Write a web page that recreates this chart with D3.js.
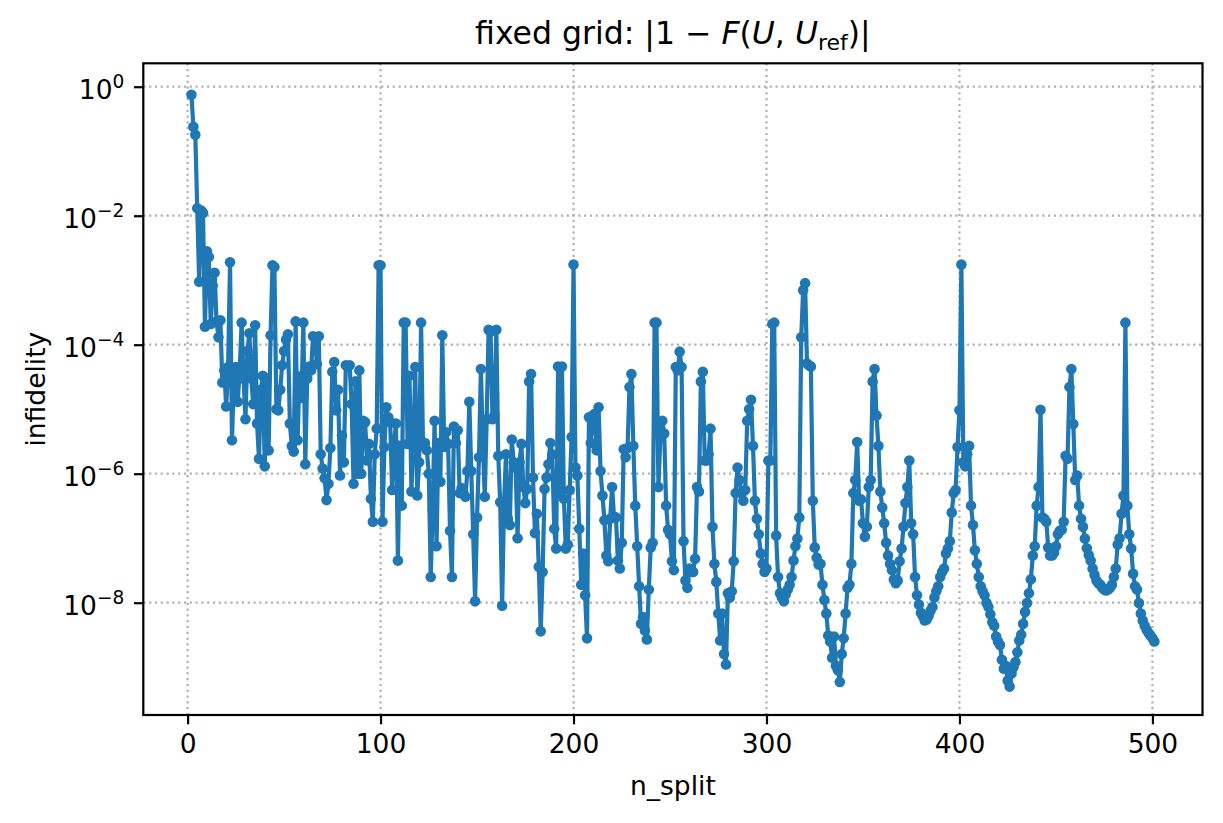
<!DOCTYPE html>
<html>
<head>
<meta charset="utf-8">
<script src="https://cdnjs.cloudflare.com/ajax/libs/d3/7.8.5/d3.min.js"></script>
<style>
  body { margin: 0; background: #fff; }
  svg { display: block; }
  text { font-family: "DejaVu Sans", sans-serif; }
</style>
</head>
<body>
<svg id="chart" width="1223" height="823"></svg>
<script>
// infidelity |1 - F(U, U_ref)| for n_split = 2, 3, 4, ...
const infidelity = [
  // 2 - 25
  7.5e-1, 2.4e-1, 1.8e-1, 1.3e-2, 9.5e-4, 1.2e-2, 1.1e-2, 1.9e-4, 2.8e-3, 2.3e-3,
  2.1e-4, 8.3e-4, 1.3e-3, 2.3e-4, 1.3e-4, 2.4e-4, 2.6e-5, 4e-5, 1.1e-5, 4.5e-5,
  1.9e-3, 3.3e-6, 3e-5, 4.5e-5,
  // 26 - 46
  1.3e-5, 4e-5, 2.2e-4, 3e-5, 7e-6, 8e-5, 1.5e-4, 3e-5, 1.2e-5, 2e-4,
  6e-6, 1.7e-6, 2e-5, 3.3e-5, 1.3e-6, 3e-5, 2.3e-6, 1.4e-4, 1.7e-3, 1.6e-3,
  1e-5,
  // 47 - 91
  9.6e-6, 2e-5, 4.8e-5, 8e-5, 1.2e-4, 1.45e-4, 6e-6, 2.7e-6, 2.2e-6, 2.3e-4,
  3.3e-6, 3.2e-5, 1.5e-5, 2.2e-4, 1.4e-6, 3e-5, 4.6e-5, 4e-5, 1.35e-4, 1.3e-4,
  5e-5, 1.35e-4, 2e-6, 1.2e-6, 8.5e-7, 3.9e-7, 7e-7, 2.5e-6, 3.8e-5, 5.4e-5,
  9.6e-6, 2e-5, 9.4e-7, 3.9e-6, 1.5e-6, 4.8e-5, 4.6e-5, 4.8e-5, 1.2e-5, 7e-7,
  2.7e-5, 1e-6, 4e-5, 1e-6, 6.6e-6,
  // 92 - 101
  6.3e-6, 1.6e-6, 2.9e-6, 4.1e-7, 1.8e-7, 2e-6, 5e-6, 1.7e-3, 1.7e-3, 1.8e-7,
  // 102 - 163
  2.6e-6, 1.07e-5, 7.5e-6, 6.3e-6, 5.6e-7, 3e-6, 6e-6, 4.5e-8, 2.7e-6, 3.2e-7,
  2.2e-4, 2.2e-4, 2.9e-6, 3.3e-5, 5.3e-7, 3e-6, 4.5e-5, 4.6e-7, 1.5e-6, 2.2e-4,
  2.7e-6, 3e-6, 2.3e-6, 1e-6, 2.5e-8, 2.8e-7, 6.6e-6, 7.5e-8, 3e-6, 7.5e-7,
  1.4e-4, 2.6e-6, 4.4e-6, 2.9e-6, 1.3e-7, 2.5e-8, 5.4e-6, 3e-6, 4.7e-6, 5e-7,
  6e-7, 5e-7, 4.4e-7, 1.1e-6, 1.3e-5, 1.1e-6, 1.15e-7, 1.05e-8, 2.1e-7, 1.8e-6,
  4.2e-5, 3e-6, 4.4e-7, 7e-6, 1.7e-4, 1.6e-4, 7e-6, 8e-6, 1.7e-4, 1.9e-6,
  3.6e-7, 9e-9,
  // 164 - 231
  3.5e-7, 2e-6, 2e-7, 1.6e-7, 3.4e-6, 1.5e-6, 1.25e-6, 1e-7, 1.5e-6, 2.9e-6,
  6.2e-7, 3.5e-7, 5.8e-7, 2.7e-5, 3.5e-5, 8.7e-7, 1.2e-7, 2.4e-7, 3.6e-8, 3.6e-9,
  3e-8, 5.8e-7, 8.7e-7, 1.4e-6, 3e-6, 2e-6, 1.4e-7, 6.9e-8, 4.6e-5, 5e-7,
  4.6e-5, 4.1e-7, 6.9e-8, 8e-8, 5.6e-7, 3.7e-6, 1.75e-3, 1.25e-6, 9.4e-7, 1.4e-7,
  1.9e-8, 5.8e-8, 1.3e-8, 2.8e-9, 7.5e-6, 3e-6, 8e-6, 8.5e-6, 2.3e-6, 1.07e-5,
  1.1e-6, 4.6e-7, 1.9e-7, 5.4e-8, 4.4e-8, 2e-7, 6.2e-7, 2.1e-7, 2.1e-7, 4.5e-8,
  3.4e-8, 8.5e-8, 2.4e-6, 1.8e-6, 2.5e-6, 2.2e-5, 3.5e-5, 2.7e-6,
  // 232 - 301
  3.2e-7, 7.5e-8, 1.8e-8, 4.7e-9, 6e-9, 3.7e-9, 2.7e-9, 1.6e-8, 7.2e-8, 8.5e-8,
  2.2e-4, 2.2e-4, 6.2e-7, 3.7e-6, 6.6e-6, 4.2e-6, 3.2e-7, 1.35e-7, 1.15e-7, 4.4e-8,
  3.2e-8, 4.5e-5, 4e-5, 7.8e-5, 4.5e-5, 9e-8, 2.2e-8, 1.7e-8, 3.4e-8, 3e-8,
  3e-8, 4.8e-8, 6.2e-7, 5.3e-7, 2.7e-5, 3.8e-5, 1.6e-6, 1.6e-6, 2e-6, 5e-6,
  1.5e-7, 4e-8, 2.1e-8, 6.8e-9, 2.6e-9, 6.8e-9, 1.6e-9, 1.1e-9, 1.4e-8, 1.2e-8,
  1.5e-8, 4.4e-8, 5e-7, 1.25e-6, 8e-7, 5e-7, 3.8e-7, 5.6e-7, 6.6e-6, 1e-5,
  1.4e-5, 2.7e-6, 3.8e-7, 2e-7, 1.15e-7, 5.8e-8, 4e-8, 3e-8, 3.4e-8, 1.6e-6,
  // 302 - 372
  1.6e-6, 2.1e-4, 2.2e-4, 1.1e-7, 2.5e-8, 1.4e-8, 1.2e-8, 1.05e-8, 1.35e-8, 1.6e-8,
  1.9e-8, 2.5e-8, 4.5e-8, 7.5e-8, 9.9e-8, 2.1e-7, 1.3e-4, 7e-4, 9e-4, 5.1e-5,
  4.8e-5, 4.6e-5, 3.8e-7, 7.2e-8, 5e-8, 3.9e-8, 4e-8, 1.9e-8, 1.1e-8, 6.8e-9,
  3.1e-9, 2.5e-9, 1.4e-9, 3e-9, 1.05e-9, 9e-10, 5.9e-10, 1.6e-9, 2.8e-9, 6.8e-9,
  1.7e-8, 1.9e-8, 4e-8, 5e-7, 8e-7, 3.1e-6, 3.8e-7, 4e-7, 1.7e-7, 1.05e-7,
  1.5e-7, 6.2e-7, 8e-7, 2.7e-5, 4.2e-5, 8e-6, 2.7e-6, 5.3e-7, 3e-7, 1.7e-7,
  8.5e-8, 5.4e-8, 4e-8, 3.2e-8, 2.3e-8, 2e-8, 2.2e-8, 4.4e-8, 6.9e-8, 1.5e-7,
  3.5e-7,
  // 373 - 441
  6.2e-7, 1.6e-6, 1.7e-7, 1.15e-7, 2.5e-8, 1.3e-8, 9.4e-9, 7e-9, 6.2e-9, 5.3e-9,
  5.5e-9, 6.2e-9, 7.5e-9, 8.6e-9, 1.2e-8, 1.5e-8, 1.8e-8, 2.5e-8, 3e-8, 3.4e-8,
  5.8e-8, 6.9e-8, 9e-8, 2.5e-7, 5e-7, 5.6e-7, 2.6e-6, 9.6e-6, 1.75e-3, 1.5e-6,
  1.3e-6, 2e-6, 2.7e-6, 3.2e-7, 1.6e-7, 6.5e-8, 4e-8, 2.5e-8, 1.8e-8, 1.5e-8,
  1.3e-8, 1e-8, 8.6e-9, 6.6e-9, 5e-9, 4.4e-9, 3e-9, 2.5e-9, 2.2e-9, 1.3e-9,
  9.5e-10, 1.05e-9, 6.2e-10, 5e-10, 8e-10, 1e-9, 1.2e-9, 1.7e-9, 2.6e-9, 3.2e-9,
  4.7e-9, 7.2e-9, 9.9e-9, 1.4e-8, 2.3e-8, 5.4e-8, 7.5e-8, 3.2e-7, 6.2e-7,
  // 442 - 501
  9.8e-6, 2.1e-7, 2e-7, 1.8e-7, 7.2e-8, 5.4e-8, 5.4e-8, 6e-8, 7.5e-8, 1.15e-7,
  1.3e-7, 1.35e-7, 1.8e-7, 1.9e-6, 1.7e-6, 2.2e-5, 4.2e-5, 5.9e-6, 8e-7, 9.4e-7,
  3.2e-7, 2e-7, 1.5e-7, 9.9e-8, 7e-8, 5.5e-8, 4.5e-8, 3.4e-8, 2.7e-8, 2.2e-8,
  2e-8, 1.9e-8, 1.7e-8, 1.6e-8, 1.55e-8, 1.6e-8, 1.7e-8, 1.9e-8, 2.5e-8, 3.4e-8,
  8e-8, 1e-7, 2.4e-7, 4.6e-7, 2.2e-4, 3.2e-7, 1.15e-7, 6.9e-8, 2.8e-8, 1.8e-8,
  1.6e-8, 9.9e-9, 6.8e-9, 5.3e-9, 4.4e-9, 3.8e-9, 3.4e-9, 3.1e-9, 2.8e-9, 2.5e-9
];
const nSplit = d3.range(2, 2 + infidelity.length);

const xTicks = [0, 100, 200, 300, 400, 500];
const yTickExponents = [0, -2, -4, -6, -8];

const svg = d3.select("#chart");
const plot = { left: 143.3, right: 1202.5, top: 63.3, bottom: 715 };
const blue = "#1f77b4";
const fontSize = 26.5;

const x = d3.scaleLinear()
    .domain([-22.95, 525.95])
    .range([plot.left, plot.right]);

const y = d3.scaleLog()
    .domain([Math.pow(10, -9.741), Math.pow(10, 0.363)])
    .range([plot.bottom, plot.top]);

const points = nSplit.map((n, i) => ({ n: n, v: infidelity[i] }));

// Grid
const grid = svg.append("g");
grid.selectAll(".gx")
    .data(xTicks)
    .enter()
    .append("line")
    .attr("x1", d => x(d)).attr("x2", d => x(d))
    .attr("y1", plot.top).attr("y2", plot.bottom);
grid.selectAll(".gy")
    .data(yTickExponents)
    .enter()
    .append("line")
    .attr("x1", plot.left).attr("x2", plot.right)
    .attr("y1", d => y(Math.pow(10, d))).attr("y2", d => y(Math.pow(10, d)));
grid.selectAll("line")
    .attr("stroke", "#b0b0b0")
    .attr("stroke-width", 2.2)
    .attr("stroke-dasharray", "2.2,3.6");

// Data line + markers
const line = d3.line()
    .x(d => x(d.n))
    .y(d => y(d.v));

svg.append("path")
    .datum(points)
    .attr("d", line)
    .attr("fill", "none")
    .attr("stroke", blue)
    .attr("stroke-width", 4.2)
    .attr("stroke-linejoin", "round");

svg.append("g")
    .selectAll("circle")
    .data(points)
    .enter()
    .append("circle")
    .attr("cx", d => x(d.n))
    .attr("cy", d => y(d.v))
    .attr("r", 5.3)
    .attr("fill", blue);

// Frame
svg.append("rect")
    .attr("x", plot.left).attr("y", plot.top)
    .attr("width", plot.right - plot.left)
    .attr("height", plot.bottom - plot.top)
    .attr("fill", "none")
    .attr("stroke", "#000")
    .attr("stroke-width", 2.2);

// X axis
const xAxis = svg.append("g")
    .attr("transform", `translate(0,${plot.bottom})`)
    .call(d3.axisBottom(x).tickValues(xTicks).tickSize(9.3).tickPadding(9.5).tickFormat(d3.format("d")));
xAxis.select(".domain").remove();
xAxis.selectAll(".tick line").attr("stroke", "#000").attr("stroke-width", 2.2);
xAxis.selectAll(".tick text")
    .attr("fill", "#000")
    .style("font-size", fontSize + "px")
    .style("font-family", "'DejaVu Sans', sans-serif");

// Y axis with 10^k labels
const yAxis = svg.append("g")
    .attr("transform", `translate(${plot.left},0)`)
    .call(d3.axisLeft(y).tickValues(yTickExponents.map(e => Math.pow(10, e))).tickSize(9.3).tickFormat(""));
yAxis.select(".domain").remove();
yAxis.selectAll(".tick line").attr("stroke", "#000").attr("stroke-width", 2.2);
yAxis.selectAll(".tick").each(function(d) {
    const e = Math.round(Math.log10(d));
    const t = d3.select(this).append("text")
        .attr("x", -19)
        .attr("y", 11.6)
        .attr("text-anchor", "end")
        .attr("fill", "#000")
        .style("font-size", fontSize + "px")
        .style("font-family", "'DejaVu Sans', sans-serif");
    t.append("tspan").text("10");
    t.append("tspan")
        .attr("dy", -10.5)
        .style("font-size", (fontSize * 0.7) + "px")
        .text(e < 0 ? "\u2212" + Math.abs(e) : String(e));
});

// Labels
svg.append("text")
    .attr("x", (plot.left + plot.right) / 2)
    .attr("y", 795)
    .attr("text-anchor", "middle")
    .style("font-size", fontSize + "px")
    .text("n_split");

svg.append("text")
    .attr("transform", `translate(45,${(plot.top + plot.bottom) / 2}) rotate(-90)`)
    .attr("text-anchor", "middle")
    .style("font-size", fontSize + "px")
    .text("infidelity");

// Title: fixed grid: |1 - F(U, U_ref)|
const title = svg.append("text")
    .attr("x", (plot.left + plot.right) / 2)
    .attr("y", 43.5)
    .attr("text-anchor", "middle")
    .style("font-size", "31.5px");
title.append("tspan").text("fixed grid: |1 \u2212 ");
title.append("tspan").style("font-style", "italic").text("F");
title.append("tspan").text("(");
title.append("tspan").style("font-style", "italic").text("U");
title.append("tspan").text(", ");
title.append("tspan").style("font-style", "italic").text("U");
title.append("tspan").attr("dy", 6).style("font-size", "22px").text("ref");
title.append("tspan").attr("dy", -6).text(")|");
</script>
</body>
</html>
